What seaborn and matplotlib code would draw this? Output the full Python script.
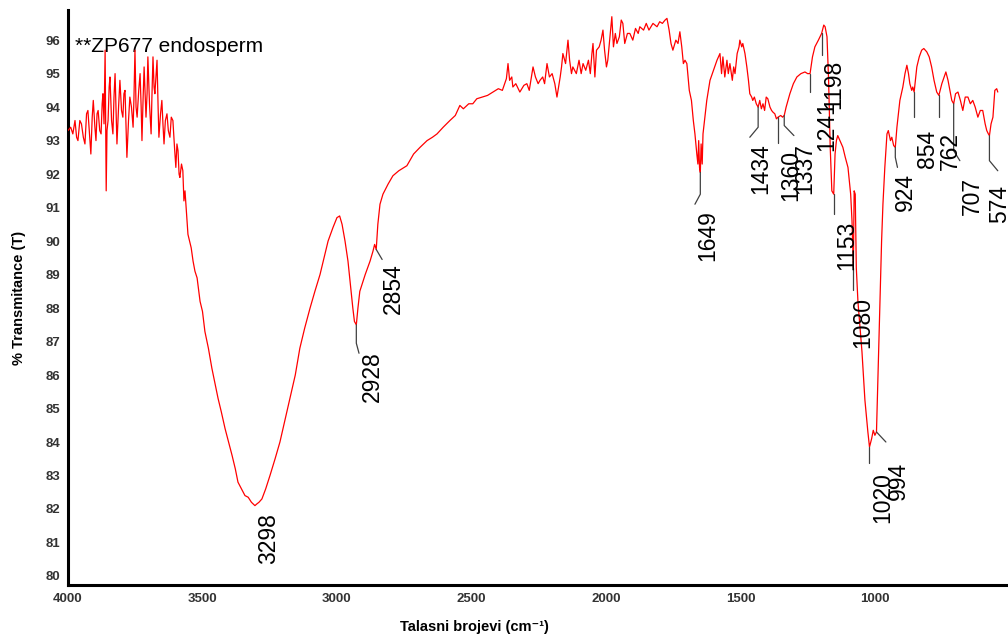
import numpy as np
import pandas as pd
import matplotlib
matplotlib.use("Agg")
import matplotlib.pyplot as plt
import seaborn as sns

# ---------------- data ----------------
wavenumber = [
    4000, 3990, 3982, 3974, 3968, 3963, 3956, 3950, 3943, 3937, 3931, 3926, 3920, 3915, 3910, 3906,
    3900, 3896, 3892, 3888, 3882, 3877, 3873, 3870, 3866, 3862, 3860, 3858, 3855, 3851, 3847, 3844,
    3838, 3833, 3829, 3825, 3821, 3818, 3812, 3807, 3801, 3796, 3792, 3788, 3784, 3781, 3775, 3770,
    3764, 3758, 3755, 3751, 3747, 3743, 3737, 3732, 3728, 3725, 3721, 3717, 3713, 3710, 3706, 3703,
    3697, 3691, 3688, 3684, 3680, 3677, 3673, 3669, 3665, 3662, 3656, 3651, 3647, 3643, 3638, 3632,
    3627, 3621, 3616, 3610, 3604, 3599, 3595, 3591, 3587, 3584, 3578, 3573, 3569, 3565, 3560, 3554,
    3548, 3542, 3535, 3528, 3520, 3509, 3500, 3491, 3478, 3465, 3452, 3442, 3430, 3416, 3403, 3390,
    3378, 3368, 3355, 3342, 3330, 3318, 3305, 3298, 3290, 3279, 3265, 3249, 3230, 3212, 3195, 3175,
    3155, 3138, 3120, 3100, 3082, 3063, 3048, 3033, 3015, 3000, 2990, 2981, 2970, 2959, 2950, 2941,
    2935, 2928, 2922, 2915, 2907, 2895, 2877, 2866, 2860, 2854, 2848, 2840, 2829, 2810, 2792, 2770,
    2740, 2715, 2691, 2665, 2645, 2628, 2605, 2580, 2560, 2543, 2530, 2510, 2495, 2480, 2460, 2440,
    2420, 2400, 2385, 2370, 2364, 2358, 2350, 2346, 2335, 2320, 2305, 2294, 2285, 2271, 2262, 2252,
    2245, 2235, 2228, 2219, 2210, 2200, 2190, 2182, 2178, 2170, 2165, 2160, 2150, 2141, 2135, 2128,
    2123, 2110, 2100, 2092, 2085, 2075, 2065, 2058, 2052, 2048, 2041, 2035, 2025, 2018, 2011, 2005,
    1998, 1993, 1985, 1978, 1972, 1965, 1959, 1950, 1943, 1937, 1930, 1920, 1911, 1900, 1890, 1880,
    1874, 1860, 1850, 1840, 1825, 1810, 1800, 1790, 1780, 1773, 1765, 1758, 1751, 1740, 1732, 1725,
    1718, 1712, 1706, 1699, 1690, 1682, 1675, 1669, 1662, 1658, 1655, 1652, 1649, 1646, 1642, 1639,
    1632, 1625, 1613, 1600, 1587, 1576, 1570, 1565, 1558, 1550, 1545, 1539, 1530, 1525, 1520, 1512,
    1505, 1502, 1495, 1491, 1483, 1476, 1470, 1465, 1458, 1454, 1448, 1441, 1434, 1428, 1422, 1416,
    1410, 1404, 1398, 1390, 1384, 1379, 1372, 1366, 1360, 1350, 1343, 1337, 1330, 1316, 1303, 1290,
    1275, 1260, 1250, 1241, 1232, 1223, 1210, 1198, 1190, 1185, 1178, 1172, 1166, 1160, 1153, 1148,
    1143, 1138, 1130, 1119, 1110, 1100, 1090, 1085, 1080, 1077, 1073, 1069, 1063, 1055, 1048, 1037,
    1026, 1020, 1012, 1006, 1000, 994, 990, 985, 980, 975, 970, 963, 955, 950, 942, 937,
    930, 924, 918, 907, 896, 888, 881, 875, 870, 863, 859, 854, 844, 835, 826, 818,
    807, 798, 789, 780, 770, 762, 751, 736, 728, 721, 714, 707, 700, 691, 682, 673,
    664, 654, 645, 636, 627, 617, 608, 599, 590, 584, 578, 574, 568, 561, 554, 547,
    543,
]
transmittance = [
    93.3, 93.4, 93.2, 93.6, 93.1, 93.0, 93.6, 93.5, 93.1, 92.9, 93.8, 93.9, 93.2, 92.6, 93.7, 94.2,
    93.4, 93.0, 93.8, 93.9, 93.3, 93.2, 94.1, 94.4, 93.5, 95.7, 93.4, 91.5, 93.3, 93.6, 94.6, 94.9,
    93.6, 93.2, 94.3, 95.0, 93.8, 92.9, 94.0, 94.8, 93.9, 93.7, 94.4, 94.5, 93.4, 92.5, 93.6, 94.3,
    94.0, 93.4, 94.2, 95.7, 94.0, 93.7, 94.5, 95.0, 94.0, 93.0, 94.2, 95.2, 94.3, 93.7, 94.4, 95.5,
    94.1, 93.2, 94.3, 95.5, 94.6, 94.4, 94.9, 95.4, 94.0, 93.1, 93.8, 94.2, 93.5, 92.9, 93.6, 93.8,
    93.3, 93.1, 93.7, 93.6, 92.8, 92.2, 92.9, 92.7, 92.0, 91.9, 92.3, 92.1, 91.2, 91.5, 90.9, 90.2,
    90.0, 89.8, 89.4, 89.1, 88.9, 88.2, 87.9, 87.3, 86.8, 86.2, 85.7, 85.3, 84.9, 84.4, 84.0, 83.6,
    83.2, 82.8, 82.6, 82.4, 82.35, 82.2, 82.1, 82.15, 82.2, 82.3, 82.6, 83.0, 83.5, 84.0, 84.6, 85.3,
    86.0, 86.8, 87.4, 88.0, 88.5, 89.0, 89.5, 90.0, 90.4, 90.7, 90.75, 90.5, 90.0, 89.4, 88.7, 88.0,
    87.6, 87.5, 88.0, 88.5, 88.7, 89.0, 89.4, 89.7, 89.9, 89.75, 90.5, 91.1, 91.4, 91.7, 91.95, 92.1,
    92.25, 92.6, 92.8, 93.0, 93.1, 93.2, 93.4, 93.6, 93.75, 94.05, 93.95, 94.1, 94.1, 94.25, 94.3, 94.35,
    94.45, 94.55, 94.5, 94.85, 95.3, 94.8, 94.9, 94.6, 94.7, 94.45, 94.65, 94.7, 94.5, 95.2, 94.9, 94.7,
    94.8, 94.9, 94.7, 95.3, 94.9, 95.0, 94.7, 94.3, 94.5, 94.9, 95.2, 95.6, 95.3, 96.0, 95.4, 95.0,
    95.2, 95.0, 95.4, 95.0, 95.3, 95.1, 95.4, 95.0, 95.6, 95.9, 94.9, 95.7, 95.8, 96.0, 96.3, 95.7,
    95.2, 95.4, 96.1, 96.7, 95.8, 96.2, 95.9, 96.1, 96.6, 96.5, 95.9, 96.2, 96.2, 96.0, 96.35, 96.2,
    96.4, 96.3, 96.5, 96.3, 96.5, 96.4, 96.55, 96.5, 96.6, 96.65, 96.3, 95.9, 95.7, 96.0, 95.9, 96.25,
    95.8, 95.3, 95.4, 95.3, 94.5, 94.2, 93.6, 93.2, 92.6, 92.3, 93.0, 92.2, 92.05, 92.9, 92.3, 93.2,
    93.7, 94.2, 94.8, 95.1, 95.4, 95.6, 95.0, 95.5, 94.9, 95.4, 95.0, 95.3, 94.8, 95.2, 95.0, 95.6,
    95.8, 96.0, 95.8, 95.9, 95.6, 95.2, 94.8, 94.4, 94.3, 94.2, 94.3, 94.1, 94.0, 94.2, 93.95, 94.1,
    93.9, 94.3, 94.25, 94.0, 93.9, 93.85, 93.8, 93.65, 93.7, 93.75, 93.7, 93.75, 94.0, 94.4, 94.7, 94.9,
    95.0, 95.05, 95.0, 95.0, 95.5, 95.8, 96.0, 96.2, 96.45, 96.4, 96.1, 94.8, 92.8, 91.5, 91.4, 92.6,
    93.0, 93.15, 93.0, 92.8, 92.5, 92.2, 91.4, 90.6, 89.2, 91.5, 91.4, 89.2, 88.2, 87.4, 86.7, 85.25,
    84.3, 83.85, 84.1, 84.35, 84.2, 84.3, 85.5, 87.0, 88.4, 90.0, 91.1, 92.2, 93.2, 93.3, 93.0, 93.1,
    92.85, 92.8, 93.4, 94.2, 94.6, 95.0, 95.25, 95.0, 94.7, 94.5, 94.6, 94.45, 95.2, 95.5, 95.7, 95.75,
    95.65, 95.5, 95.2, 94.8, 94.45, 94.35, 94.7, 95.05, 94.8, 94.5, 94.2, 94.1, 94.4, 94.45, 94.2, 93.9,
    94.3, 94.3, 94.1, 94.2, 94.0, 93.7, 93.9, 93.9, 93.5, 93.3, 93.2, 93.15, 93.5, 93.7, 94.5, 94.55,
    94.45,
]

peak_labels = [3298, 2928, 2854, 1649, 1434, 1360, 1337, 1241, 1198, 1153, 1080, 1020, 994, 924, 854, 762, 707, 574]

x_ticks = [4000, 3500, 3000, 2500, 2000, 1500, 1000]
y_ticks = list(range(80, 97))
title_text = "**ZP677 endosperm"
x_label = "Talasni brojevi (cm\u207b\u00b9)"
y_label = "% Transmitance (T)"

# ---------------- layout of annotations ----------------
# (vertical leader drop in T, label x-offset in cm-1, label top offset in T,
#  diagonal end x-offset in cm-1 (negative = to the right) or None)
ann_layout = {
    3298: (0.0, -45, -0.27, None),
    2928: (-0.55, -58, -0.8, -10),
    2854: (0.0, -62, -0.41, -22),
    1649: (-0.65, -28, -1.12, 20),
    1434: (-0.6, -10, -1.07, 31),
    1360: (-0.77, -48, -0.98, None),
    1337: (-0.3, -77, -0.82, -36),
    1241: (-0.55, -63, -0.8, None),
    1198: (-0.65, -46, -0.79, None),
    1153: (-0.6, -49, -0.8, None),
    1080: (-0.65, -35, -0.87, None),
    1020: (-0.48, -50, -0.75, None),
    994:  (0.0, -83, -0.9, -35),
    924:  (-0.3, -39, -0.77, -8),
    854:  (-0.75, -51, -1.14, None),
    762:  (-0.65, -44, -1.1, None),
    707:  (-1.4, -68, -2.2, -23),
    574:  (-0.75, -39, -1.48, -31),
}

df = pd.DataFrame({"wn": wavenumber, "T": transmittance})

sns.set_style("white")
plt.rcParams["font.family"] = ["Liberation Sans", "DejaVu Sans"]

fig = plt.figure(figsize=(10.08, 6.37), dpi=100)
ax = fig.add_axes([68 / 1008, 52 / 637, 940 / 1008, 575 / 637])

sns.lineplot(data=df, x="wn", y="T", sort=False, color="#ff0000", linewidth=0.9, ax=ax, zorder=3)

ax.set_xlim(4000, 505)
ax.set_ylim(79.73, 96.9)

ax.text(3975, 95.65, title_text, fontsize=15, color="black", va="baseline", ha="left", zorder=2)

lookup = dict(zip(wavenumber, transmittance))
for pk in peak_labels:
    t0 = lookup[pk]
    drop, lx, ly, dx = ann_layout[pk]
    xs = [pk, pk]
    ys = [t0, t0 + drop]
    if dx is not None:
        xs.append(pk + dx)
        ys.append(t0 + drop - 0.3)
    if drop != 0 or dx is not None:
        ax.plot(xs, ys, color="#404040", linewidth=0.9, zorder=4)
    ax.text(pk + lx, t0 + ly, str(pk), rotation=90, ha="center", va="top",
            fontsize=16.5, color="black", zorder=5)

ax.set_xticks(x_ticks)
ax.set_xticklabels([str(v) for v in x_ticks])
ax.set_yticks(y_ticks)
ax.set_yticklabels([str(v) for v in y_ticks])
ax.yaxis.set_minor_locator(matplotlib.ticker.MultipleLocator(0.25))
ax.tick_params(axis="both", which="major", labelsize=9.5, labelcolor="#333333",
               direction="out", length=3.5, width=1.2, color="black", pad=2)
ax.tick_params(axis="y", which="minor", direction="in", length=2, width=0.8, color="#999999")
for lbl in ax.get_xticklabels() + ax.get_yticklabels():
    lbl.set_fontweight("bold")

for side in ["top", "right"]:
    ax.spines[side].set_visible(False)
for side in ["left", "bottom"]:
    ax.spines[side].set_linewidth(2.2)
    ax.spines[side].set_color("black")

ax.set_xlabel(x_label, fontsize=10.5, fontweight="bold", color="black")
ax.xaxis.set_label_coords(0.432, -0.061)
ax.set_ylabel(y_label, fontsize=10.5, fontweight="bold", color="black")
ax.yaxis.set_label_coords(-0.045, 0.5)
ax.grid(False)

fig.savefig("out.png", dpi=100)
